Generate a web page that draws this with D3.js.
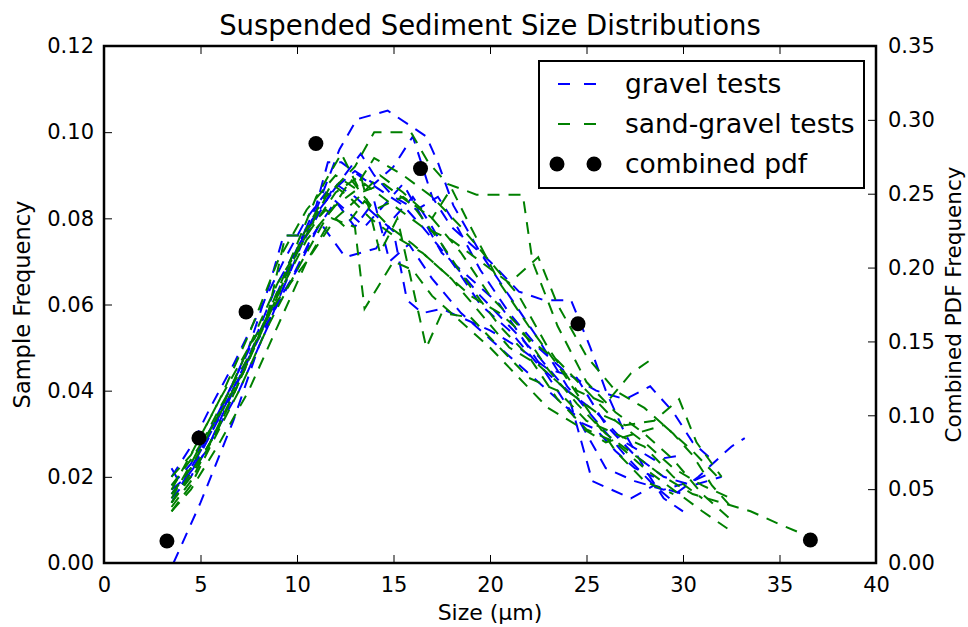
<!DOCTYPE html>
<html>
<head>
<meta charset="utf-8">
<script src="https://cdn.jsdelivr.net/npm/d3@7"></script>
<style>
  body { margin: 0; background: #fff; }
  text { font-family: "DejaVu Sans", sans-serif; }
</style>
</head>
<body>
<svg width="968" height="627"></svg>
<script>
// gravel test curves, [size um, frequency]
var gravel = [
  [[3.6,0.0],[5,0.014],[6.7,0.033],[8,0.05],[9.5,0.066],[11,0.082],[12.2,0.096],[13.1,0.103],[14.7,0.105],[16.7,0.099],[17.3,0.093],[18.1,0.083],[19.5,0.072],[21,0.062],[22.5,0.052],[24,0.041],[25.5,0.033],[27,0.025],[28.5,0.018],[29.3,0.015],[30.8,0.02],[32.5,0.027],[33.2,0.029]],
  [[3.5,0.022],[4,0.018],[5,0.026],[6.3,0.038],[7.5,0.05],[8.6,0.065],[9.3,0.076],[10.3,0.076],[11,0.083],[11.6,0.093],[12.3,0.093],[13.5,0.089],[14.5,0.086],[15.5,0.083],[16.5,0.078],[18,0.07],[19.5,0.06],[21,0.054],[22.5,0.046],[24,0.04],[25.3,0.019],[27.3,0.015],[28.5,0.018],[30,0.016]],
  [[3.5,0.016],[4.5,0.022],[5.5,0.03],[7,0.043],[8.5,0.057],[10,0.068],[11.2,0.079],[12.5,0.071],[14.1,0.073],[15,0.08],[16,0.085],[17,0.078],[18,0.07],[19.5,0.062],[21,0.055],[22.5,0.048],[24,0.04],[25.5,0.035],[27,0.028],[28.5,0.024],[30,0.025]],
  [[3.5,0.015],[4.5,0.02],[5.5,0.028],[7,0.04],[8.5,0.055],[10,0.072],[11,0.08],[12,0.088],[13,0.085],[14,0.081],[15,0.077],[15.7,0.061],[16.5,0.058],[17.5,0.059],[18.5,0.057],[20,0.054],[21.5,0.05],[23,0.045],[24.5,0.043],[26,0.032],[27.5,0.025],[29,0.02],[30.5,0.018],[32,0.02]],
  [[3.5,0.014],[4.5,0.021],[6,0.034],[7.5,0.048],[9,0.063],[10.5,0.078],[12,0.087],[13,0.091],[14,0.088],[15,0.092],[16,0.099],[17,0.085],[18,0.078],[19,0.074],[20,0.07],[21.5,0.063],[22.8,0.061],[24.2,0.061],[25.2,0.05],[26,0.04],[27,0.03],[28,0.022],[29,0.015],[30,0.012]],
  [[3.5,0.018],[4.5,0.023],[5.5,0.031],[6.7,0.042],[8,0.054],[9,0.065],[10,0.073],[11,0.081],[12.3,0.089],[13.3,0.095],[14,0.09],[15,0.085],[16.2,0.082],[17.3,0.085],[18.3,0.078],[19.5,0.068],[21,0.058],[22.5,0.05],[24,0.044],[25.5,0.04],[27,0.038],[28.3,0.041],[29.5,0.035],[30.5,0.028],[31.5,0.024]],
  [[3.5,0.02],[4.5,0.027],[5.5,0.036],[6.7,0.046],[8,0.058],[9.3,0.07],[10.5,0.08],[11.5,0.086],[12.5,0.082],[13.5,0.078],[14.5,0.083],[15.5,0.088],[16.5,0.08],[17.5,0.072],[19,0.066],[20.5,0.06],[22,0.05],[23.5,0.04],[24.5,0.033],[25.5,0.031],[26.5,0.026],[27.5,0.022],[28.5,0.02]],
  [[3.5,0.017],[4.3,0.02],[5.3,0.026],[6.5,0.038],[8,0.052],[9.5,0.064],[10.8,0.076],[12,0.084],[13,0.078],[14,0.084],[14.8,0.07],[15.8,0.074],[17,0.066],[18.5,0.058],[20,0.052],[21.5,0.046],[23,0.04],[24.5,0.034],[26,0.022],[27.5,0.019],[29,0.017],[30.5,0.019],[31.5,0.021]]
];

// sand-gravel test curves
var sandGravel = [
  [[3.5,0.014],[4.5,0.02],[5.5,0.028],[7,0.042],[8.5,0.058],[10,0.072],[11.5,0.085],[13,0.092],[14,0.1],[15.9,0.1],[16.8,0.093],[17.8,0.088],[19.3,0.0855],[21.7,0.0855],[22.2,0.07],[23.5,0.055],[25,0.042],[26.5,0.035],[28,0.03],[29.5,0.024],[31,0.016],[32.5,0.01]],
  [[3.5,0.012],[4.5,0.018],[5.5,0.027],[7,0.04],[8.5,0.055],[10,0.068],[11.5,0.08],[12.8,0.089],[14,0.082],[15.5,0.085],[17,0.08],[18.5,0.072],[20,0.062],[21.5,0.055],[23,0.045],[24.5,0.037],[26,0.03],[27.5,0.025],[29,0.02],[30.5,0.016],[32,0.014],[33.5,0.012],[35,0.009],[36.6,0.006]],
  [[3.5,0.016],[4.5,0.022],[6,0.035],[7.5,0.05],[9,0.065],[10.5,0.076],[12,0.086],[13.3,0.09],[14.3,0.072],[15.2,0.08],[16.7,0.05],[17.5,0.058],[19,0.057],[20.5,0.05],[22,0.043],[23.5,0.04],[25,0.033],[26.5,0.03],[28,0.027],[29.5,0.02],[31,0.015]],
  [[3.5,0.02],[4.5,0.025],[6,0.038],[7.5,0.053],[9,0.07],[10.5,0.082],[12,0.09],[13,0.087],[14,0.094],[15.5,0.09],[17,0.085],[18.5,0.078],[20,0.07],[21.5,0.062],[23,0.05],[24.5,0.04],[26,0.037],[27.3,0.044],[28.6,0.048]],
  [[3.5,0.013],[4.5,0.019],[6,0.032],[7.5,0.047],[9,0.062],[10.5,0.075],[12,0.083],[13.5,0.088],[15,0.083],[16.5,0.078],[18,0.075],[19.5,0.07],[21,0.065],[22.5,0.071],[23.5,0.06],[25,0.048],[26.5,0.04],[28,0.036],[29.5,0.03],[30.5,0.025],[31.5,0.018],[32.5,0.013]],
  [[3.5,0.015],[4.5,0.023],[6,0.036],[7.5,0.048],[9,0.062],[10.3,0.076],[11.8,0.088],[12.7,0.085],[13.8,0.08],[15,0.076],[16.5,0.072],[18,0.066],[19.5,0.058],[21,0.05],[22.5,0.046],[24,0.04],[25.5,0.035],[27,0.032],[28.5,0.033],[29.8,0.038],[30.7,0.028],[32,0.02]],
  [[3.5,0.018],[4.5,0.024],[5.8,0.033],[7.3,0.045],[8.7,0.06],[10,0.074],[11,0.085],[12.3,0.095],[13.3,0.086],[14.5,0.088],[16,0.083],[17.5,0.074],[19,0.064],[20.5,0.055],[22,0.048],[23.5,0.038],[25,0.031],[26.5,0.028],[28,0.022],[29.5,0.017],[31,0.012],[32.3,0.008]],
  [[3.5,0.014],[4.5,0.021],[5.8,0.03],[7.2,0.044],[8.5,0.058],[9.4,0.076],[10.2,0.076],[11.5,0.082],[12.5,0.078],[13.5,0.084],[14.8,0.078],[16,0.074],[17.5,0.068],[19,0.062],[20.5,0.058],[22,0.052],[23.5,0.047],[25,0.04],[26.5,0.033],[28,0.028],[29.5,0.022],[31,0.018],[32.5,0.015]],
  [[3.5,0.012],[4.5,0.017],[6,0.028],[7.5,0.04],[9,0.055],[10.5,0.07],[12,0.08],[13,0.084],[14.3,0.09],[15.5,0.086],[17,0.08],[18,0.087],[19,0.078],[20.5,0.065],[22,0.055],[23.5,0.046],[25,0.036],[26.5,0.026],[28,0.019],[29.5,0.016]],
  [[3.5,0.017],[4.6,0.026],[6,0.038],[7.5,0.05],[9,0.061],[10.5,0.07],[11.8,0.08],[13,0.078],[13.5,0.059],[15,0.07],[16,0.068],[17,0.062],[18.5,0.056],[20,0.05],[21.5,0.043],[23,0.036],[24.5,0.032],[26,0.028],[27.5,0.03],[29,0.032],[30.5,0.026],[32,0.019]]
];

// combined pdf (right axis)
var pdfSize = [3.26, 4.92, 7.36, 10.98, 16.4, 24.56, 36.6];
var pdfFreq = [0.0149, 0.0846, 0.170, 0.284, 0.267, 0.162, 0.0156];

var xTicks = [0, 5, 10, 15, 20, 25, 30, 35, 40];
var yTicks = [0, 0.02, 0.04, 0.06, 0.08, 0.10, 0.12];
var y2Ticks = [0, 0.05, 0.10, 0.15, 0.20, 0.25, 0.30, 0.35];

var svg = d3.select("svg"),
    margin = {top: 46, right: 92, bottom: 64, left: 104},
    width = 968 - margin.left - margin.right,
    height = 627 - margin.top - margin.bottom,
    g = svg.append("g").attr("transform", "translate(" + margin.left + "," + margin.top + ")");

var x = d3.scaleLinear().domain([0, 40]).range([0, width]),
    y = d3.scaleLinear().domain([0, 0.12]).range([height, 0]),
    y2 = d3.scaleLinear().domain([0, 0.35]).range([height, 0]);

var line = d3.line()
    .x(function(d) { return x(d[0]); })
    .y(function(d) { return y(d[1]); });

g.append("clipPath").attr("id", "clip")
  .append("rect").attr("width", width).attr("height", height);

var plot = g.append("g").attr("clip-path", "url(#clip)");

plot.selectAll(".gravel").data(gravel)
  .enter().append("path")
    .attr("class", "gravel")
    .attr("d", line)
    .attr("fill", "none")
    .attr("stroke", "#0000ff")
    .attr("stroke-width", 2)
    .attr("stroke-dasharray", "12,9");

plot.selectAll(".sand").data(sandGravel)
  .enter().append("path")
    .attr("class", "sand")
    .attr("d", line)
    .attr("fill", "none")
    .attr("stroke", "#008000")
    .attr("stroke-width", 2)
    .attr("stroke-dasharray", "12,9");

g.selectAll(".pdf").data(pdfSize)
  .enter().append("circle")
    .attr("class", "pdf")
    .attr("cx", function(d) { return x(d); })
    .attr("cy", function(d, i) { return y2(pdfFreq[i]); })
    .attr("r", 7.5)
    .attr("fill", "#000");

// axes, ticks inward
function styleAxis(sel) {
  sel.select(".domain").remove();
  sel.selectAll(".tick line").attr("stroke", "#000").attr("stroke-width", 1);
  sel.selectAll(".tick text").attr("fill", "#000").style("font-size", "21px")
    .style("font-family", "DejaVu Sans, sans-serif");
}

g.append("g")
    .attr("transform", "translate(0," + height + ")")
    .call(d3.axisBottom(x).tickValues(xTicks).tickSize(-8).tickPadding(14).tickFormat(d3.format("d")))
    .call(styleAxis);

g.append("g")
    .call(d3.axisTop(x).tickValues(xTicks).tickSize(-8).tickFormat(""))
    .call(styleAxis);

g.append("g")
    .call(d3.axisLeft(y).tickValues(yTicks).tickSize(-8).tickPadding(10).tickFormat(d3.format(".2f")))
    .call(styleAxis);

g.append("g")
    .attr("transform", "translate(" + width + ",0)")
    .call(d3.axisRight(y2).tickValues(y2Ticks).tickSize(-8).tickPadding(12).tickFormat(d3.format(".2f")))
    .call(styleAxis);

g.append("rect")
    .attr("width", width).attr("height", height)
    .attr("fill", "none").attr("stroke", "#000").attr("stroke-width", 2.5);

// labels
svg.append("text")
    .attr("x", margin.left + width / 2).attr("y", 35)
    .attr("text-anchor", "middle")
    .style("font-size", "27.5px")
    .text("Suspended Sediment Size Distributions");

svg.append("text")
    .attr("x", margin.left + width / 2).attr("y", 620)
    .attr("text-anchor", "middle")
    .style("font-size", "22px")
    .text("Size (\u00b5m)");

svg.append("text")
    .attr("transform", "translate(30," + (margin.top + height / 2) + ") rotate(-90)")
    .attr("text-anchor", "middle")
    .style("font-size", "22.5px")
    .text("Sample Frequency");

svg.append("text")
    .attr("transform", "translate(961," + (margin.top + height / 2) + ") rotate(-90)")
    .attr("text-anchor", "middle")
    .style("font-size", "21.5px")
    .text("Combined PDF Frequency");

// legend
var legend = svg.append("g").attr("transform", "translate(539,61)");
legend.append("rect")
    .attr("width", 325).attr("height", 127)
    .attr("fill", "#fff").attr("stroke", "#000").attr("stroke-width", 2);

var legendItems = [
  {label: "gravel tests", color: "#0000ff", type: "line"},
  {label: "sand-gravel tests", color: "#008000", type: "line"},
  {label: "combined pdf", color: "#000", type: "dot"}
];

var item = legend.selectAll(".item").data(legendItems)
  .enter().append("g")
    .attr("transform", function(d, i) { return "translate(0," + (23 + i * 40) + ")"; });

item.filter(function(d) { return d.type === "line"; })
  .append("line")
    .attr("x1", 19).attr("x2", 60)
    .attr("stroke", function(d) { return d.color; })
    .attr("stroke-width", 2)
    .attr("stroke-dasharray", "12,14");

item.filter(function(d) { return d.type === "dot"; })
  .selectAll("circle").data([18, 55])
  .enter().append("circle")
    .attr("cx", function(d) { return d; })
    .attr("r", 7.5)
    .attr("fill", "#000");

item.append("text")
    .attr("x", 86).attr("dy", "0.35em")
    .style("font-size", "26.5px")
    .text(function(d) { return d.label; });
</script>
</body>
</html>
